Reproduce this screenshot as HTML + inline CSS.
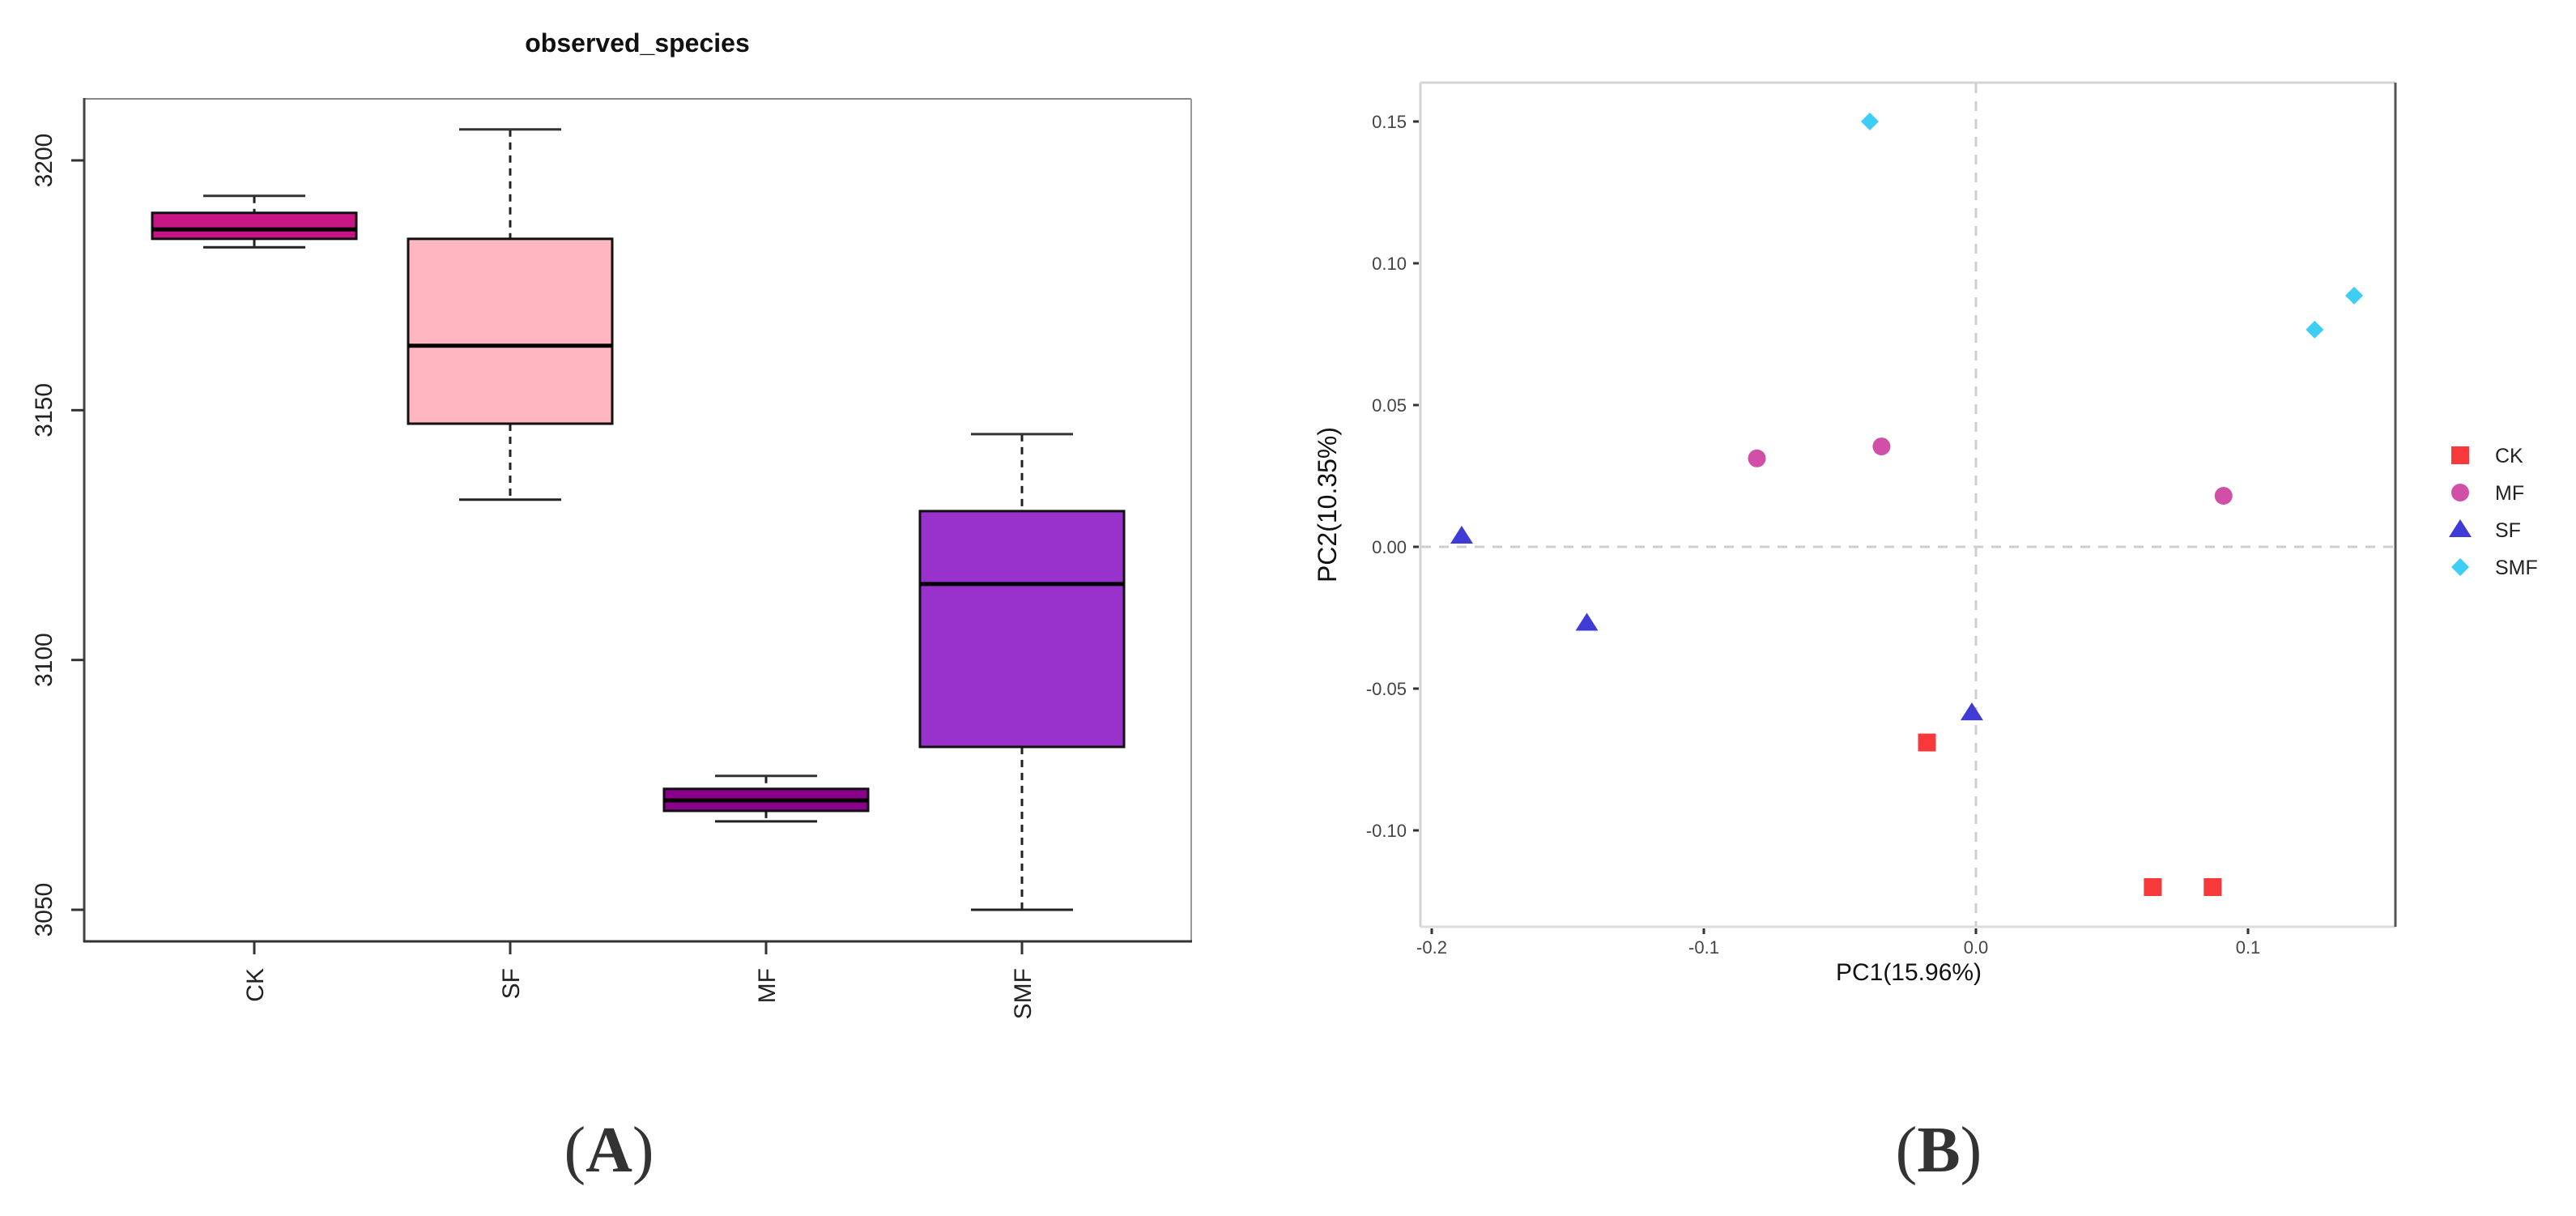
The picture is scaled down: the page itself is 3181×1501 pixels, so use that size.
<!DOCTYPE html>
<html><head><meta charset="utf-8"><style>
html,body{margin:0;padding:0;background:#fff;}
svg{display:block;}
text{font-family:"Liberation Sans",Arial,sans-serif;}
</style></head><body>
<svg id="fig" xmlns="http://www.w3.org/2000/svg" width="3181" height="1501" viewBox="0 0 3181 1501">
<rect x="0" y="0" width="3181" height="1501" fill="#fff"/>
<g id="panelA">
  <text x="787" y="64" font-size="32" font-weight="bold" text-anchor="middle" fill="#111">observed_species</text>
  <line x1="104" y1="122" x2="1471" y2="122" stroke="#888" stroke-width="2"/>
  <line x1="1471" y1="122" x2="1471" y2="1162" stroke="#999" stroke-width="2"/>
  <line x1="104" y1="121" x2="104" y2="1163" stroke="#444" stroke-width="3"/>
  <line x1="103" y1="1162" x2="1472" y2="1162" stroke="#333" stroke-width="3"/>
  <g id="boxes"></g>
  <g id="aAxes"></g>
  <text x="752" y="1446" font-size="80" text-anchor="middle" fill="#333" style="font-family:'Liberation Serif',serif">(<tspan font-weight="bold">A</tspan>)</text>
</g>
<g id="panelB">
  <line x1="1754" y1="102" x2="2958" y2="102" stroke="#d4d4d4" stroke-width="3"/>
  <line x1="1754" y1="102" x2="1754" y2="1144" stroke="#d4d4d4" stroke-width="3"/>
  <line x1="1754" y1="1144" x2="2958" y2="1144" stroke="#dcdcdc" stroke-width="3"/>
  <line x1="2958" y1="102" x2="2958" y2="1144" stroke="#555" stroke-width="3"/>
  <g id="bAxes"></g>
  <g id="points"></g>
  <g id="legend"></g>
  <text x="2357" y="1210" font-size="30" text-anchor="middle" fill="#111">PC1(15.96%)</text>
  <text transform="translate(1650,623) rotate(-90)" font-size="32" text-anchor="middle" fill="#111">PC2(10.35%)</text>
  <text x="2394" y="1446" font-size="80" text-anchor="middle" fill="#333" style="font-family:'Liberation Serif',serif">(<tspan font-weight="bold">B</tspan>)</text>
</g>
</svg>
<script>
// ---- Panel A data ----
const boxGroups = ["CK","SF","MF","SMF"];
const boxWhiskerLow = [3182.6,3132.1,3067.7,3050.0];
const boxQ1 = [3184.3,3147.3,3069.8,3082.6];
const boxMedian = [3186.2,3162.9,3071.9,3115.2];
const boxQ3 = [3189.5,3184.3,3074.2,3129.8];
const boxWhiskerHigh = [3192.9,3206.2,3076.8,3145.2];
const boxColors = ["#C71585","#FFB6C1","#8B008B","#9932CC"];
const aYTicks = [3050,3100,3150,3200];

// ---- Panel B data ----
const pcaGroups = ["CK","MF","SF","SMF"];
const ckPC1 = [-0.018,0.065,0.087];
const ckPC2 = [-0.069,-0.120,-0.120];
const mfPC1 = [-0.0805,-0.0347,0.091];
const mfPC2 = [0.0312,0.0354,0.018];
const sfPC1 = [-0.189,-0.143,-0.0015];
const sfPC2 = [0.0037,-0.027,-0.0586];
const smfPC1 = [-0.039,0.1245,0.139];
const smfPC2 = [0.150,0.0766,0.0886];
const bXTicks = [-0.2,-0.1,0.0,0.1];
const bXTickLabels = ["-0.2","-0.1","0.0","0.1"];
const bYTicks = [0.15,0.10,0.05,0.00,-0.05,-0.10];
const bYTickLabels = ["0.15","0.10","0.05","0.00","-0.05","-0.10"];

const NS="http://www.w3.org/2000/svg";
function mk(tag, attrs, parent){const e=document.createElementNS(NS,tag);for(const k in attrs)e.setAttribute(k,attrs[k]);parent.appendChild(e);return e;}

function ayScale(v){return 198+(3200-v)*(925/150);}
function axScale(i){return 314+i*316;}
const boxesG=document.getElementById('boxes');
boxGroups.forEach((g,i)=>{
  const cx=axScale(i), hw=126, cw=63;
  const grp=mk('g',{},boxesG);
  
  
  const w1=mk('line',{x1:cx,x2:cx,y1:ayScale(boxWhiskerHigh[i]),y2:ayScale(boxQ3[i]),stroke:'#222','stroke-width':3,'stroke-dasharray':'9,7'},grp);
  
  
  const w2=mk('line',{x1:cx,x2:cx,y1:ayScale(boxQ1[i]),y2:ayScale(boxWhiskerLow[i]),stroke:'#222','stroke-width':3,'stroke-dasharray':'9,7'},grp);
  
  
  const c1=mk('line',{x1:cx-cw,x2:cx+cw,y1:ayScale(boxWhiskerHigh[i]),y2:ayScale(boxWhiskerHigh[i]),stroke:'#333','stroke-width':3},grp);
  
  
  const c2=mk('line',{x1:cx-cw,x2:cx+cw,y1:ayScale(boxWhiskerLow[i]),y2:ayScale(boxWhiskerLow[i]),stroke:'#222','stroke-width':3},grp);
  
  
  const r=mk('rect',{x:cx-hw,y:ayScale(boxQ3[i]),width:hw*2,height:ayScale(boxQ1[i])-ayScale(boxQ3[i]),fill:boxColors[i],stroke:'#111','stroke-width':3},grp);
  
  
  const m=mk('line',{x1:cx-hw,x2:cx+hw,y1:ayScale(boxMedian[i]),y2:ayScale(boxMedian[i]),stroke:'#000','stroke-width':5},grp);
  
  
});
const aAx=document.getElementById('aAxes');
aYTicks.forEach(v=>{
  const y=ayScale(v);
  const t=mk('line',{x1:88,x2:104,y1:y,y2:y,stroke:'#333','stroke-width':3},aAx);
  
  
  const l=mk('text',{transform:`translate(64,${y}) rotate(-90)`,'font-size':30,'text-anchor':'middle',fill:'#222'},aAx);
  l.textContent=v;
  
  
});
boxGroups.forEach((g,i)=>{
  const x=axScale(i);
  const t=mk('line',{x1:x,x2:x,y1:1162,y2:1178,stroke:'#333','stroke-width':3},aAx);
  
  
  const l=mk('text',{transform:`translate(${x+11},1195) rotate(-90)`,'font-size':30,'text-anchor':'end',fill:'#222'},aAx);
  l.textContent=g;
  
  
});

function bx(v){return 2440+v*3360;}
function by(v){return 150+(0.15-v)*3500;}
const bAx=document.getElementById('bAxes');
const vz=mk('line',{x1:bx(0),x2:bx(0),y1:103,y2:1143,stroke:'#cfcfcf','stroke-width':3,'stroke-dasharray':'12,10'},bAx);


const hz=mk('line',{x1:1755,x2:2957,y1:by(0),y2:by(0),stroke:'#cfcfcf','stroke-width':3,'stroke-dasharray':'12,10'},bAx);


bXTicks.forEach((v,i)=>{
  const x=bx(v);
  const t=mk('line',{x1:x,x2:x,y1:1146,y2:1153,stroke:'#333','stroke-width':3},bAx);
  
  
  const l=mk('text',{x:x,y:1177,'font-size':22,'text-anchor':'middle',fill:'#444'},bAx);
  l.textContent=bXTickLabels[i];
  
  
});
bYTicks.forEach((v,i)=>{
  const y=by(v);
  const t=mk('line',{x1:1745,x2:1752,y1:y,y2:y,stroke:'#333','stroke-width':3},bAx);
  
  
  const l=mk('text',{x:1737,y:y+8,'font-size':22,'text-anchor':'end',fill:'#444'},bAx);
  l.textContent=bYTickLabels[i];
  
  
});

const colors={CK:'#F8393B',MF:'#D24FA8',SF:'#3E3BD6',SMF:'#3ECDF5'};
function marker(g,x,y,parent){
  let e;
  if(g==='CK') e=mk('rect',{x:x-11,y:y-11,width:22,height:22,fill:colors.CK},parent);
  else if(g==='MF') e=mk('circle',{cx:x,cy:y,r:11,fill:colors.MF},parent);
  else if(g==='SF') e=mk('polygon',{points:`${x},${y-13} ${x-14},${y+9} ${x+14},${y+9}`,fill:colors.SF},parent);
  else e=mk('polygon',{points:`${x},${y-11} ${x+11},${y} ${x},${y+11} ${x-11},${y}`,fill:colors.SMF},parent);
  return e;
}
const ptsG=document.getElementById('points');
const series=[["CK",ckPC1,ckPC2],["MF",mfPC1,mfPC2],["SF",sfPC1,sfPC2],["SMF",smfPC1,smfPC2]];
series.forEach(([g,xs,ys])=>{
  xs.forEach((xv,j)=>{
    const e=marker(g,bx(xv),by(ys[j]),ptsG);
    
    
  });
});
const legG=document.getElementById('legend');
pcaGroups.forEach((g,i)=>{
  const y=562+i*46;
  const e=marker(g,3038,y,legG);
  
  
  const t=mk('text',{x:3081,y:y+9,'font-size':25,fill:'#222'},legG);
  t.textContent=g;
  
  
});
</script>
</body></html>
